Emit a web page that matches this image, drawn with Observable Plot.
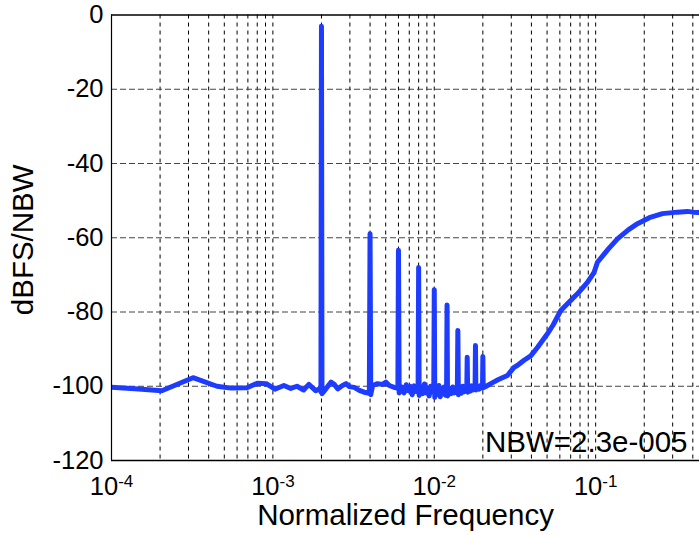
<!DOCTYPE html>
<html>
<head>
<meta charset="utf-8">
<script src="https://cdn.jsdelivr.net/npm/d3@7"></script>
<script src="https://cdn.jsdelivr.net/npm/@observablehq/plot@0.6"></script>
<style>
  html, body { margin: 0; padding: 0; overflow: hidden; background: #fff; }
</style>
</head>
<body>
<div id="chart"></div>
<script>
// Normalized frequency of each sample of the spectrum
const freq = [
  1.0e-4, 1.4e-4, 2.05e-4, 3.2e-4, 4.5e-4, 5.5e-4, 6.9e-4, 8.0e-4, 9.1e-4,
  1.03e-3, 1.17e-3, 1.29e-3, 1.41e-3, 1.55e-3, 1.67e-3, 1.84e-3, 1.96e-3,
  1.985e-3, 2.0e-3, 2.015e-3,
  2.13e-3, 2.29e-3, 2.40e-3, 2.52e-3, 2.70e-3, 2.84e-3, 2.98e-3, 3.19e-3, 3.43e-3, 3.68e-3,
  3.96e-3, 4.0e-3, 4.04e-3,
  4.15e-3, 4.45e-3, 4.79e-3, 5.02e-3, 5.26e-3, 5.65e-3,
  5.95e-3, 6.0e-3, 6.06e-3,
  6.3e-3, 6.5e-3, 6.7e-3, 6.9e-3, 7.1e-3, 7.3e-3, 7.5e-3, 7.7e-3,
  7.94e-3, 8.0e-3, 8.06e-3,
  8.3e-3, 8.5e-3, 8.7e-3, 8.9e-3, 9.1e-3, 9.3e-3, 9.5e-3, 9.7e-3,
  9.93e-3, 1.0e-2, 1.007e-2,
  1.03e-2, 1.05e-2, 1.07e-2, 1.09e-2, 1.11e-2, 1.13e-2, 1.15e-2, 1.17e-2,
  1.192e-2, 1.2e-2, 1.208e-2,
  1.24e-2, 1.27e-2, 1.30e-2, 1.33e-2, 1.36e-2,
  1.39e-2, 1.4e-2, 1.41e-2,
  1.44e-2, 1.47e-2, 1.50e-2, 1.53e-2, 1.56e-2,
  1.59e-2, 1.6e-2, 1.61e-2,
  1.64e-2, 1.67e-2, 1.70e-2, 1.74e-2,
  1.79e-2, 1.8e-2, 1.81e-2,
  1.85e-2, 1.89e-2, 1.93e-2,
  1.99e-2, 2.0e-2, 2.01e-2,
  2.1e-2, 2.24e-2, 2.5e-2, 2.84e-2, 3.12e-2, 3.27e-2, 3.6e-2, 3.96e-2, 4.37e-2,
  5.0e-2, 5.45e-2, 6.08e-2, 7.18e-2, 7.71e-2, 8.89e-2, 9.78e-2, 0.1026, 0.12,
  0.1365, 0.16, 0.1817, 0.215, 0.2594, 0.321, 0.37, 0.40, 0.45, 0.5
];
// Level in dBFS/NBW at each frequency
const level = [
  -100.3, -100.7, -101.2, -97.7, -100.0, -100.5, -100.4, -99.2, -99.3,
  -100.8, -99.8, -100.6, -100.0, -101.0, -99.5, -101.2, -100.6,
  -101.5, -3.0, -102.0,
  -100.7, -98.9, -99.5, -100.7, -99.8, -99.3, -100.1, -100.3, -101.1, -101.6,
  -101.9, -58.9, -102.3,
  -99.8, -99.3, -99.5, -98.9, -99.8, -100.3,
  -100.6, -63.4, -101.8,
  -100.2, -101.8, -99.6, -101.2, -100.0, -102.3, -99.9, -101.4,
  -100.6, -68.0, -102.5,
  -100.2, -102.0, -99.4, -101.8, -100.5, -102.6, -100.0, -101.5,
  -100.8, -74.0, -103.0,
  -100.4, -102.2, -99.8, -102.8, -100.6, -101.9, -100.2, -102.4,
  -100.9, -78.1, -102.6,
  -100.5, -102.0, -100.2, -101.8, -100.6,
  -101.4, -85.0, -102.3,
  -100.4, -101.9, -100.0, -101.5, -100.3,
  -101.2, -92.2, -101.6,
  -100.0, -101.3, -99.9, -101.0,
  -100.2, -89.0, -101.0,
  -100.0, -100.8, -99.8,
  -100.5, -92.0, -100.4,
  -100.0, -99.3, -98.2, -97.1, -94.9, -94.4, -93.0, -91.8, -89.5,
  -86.0, -83.5, -79.6, -76.4, -75.1, -72.0, -69.3, -66.6, -63.0,
  -60.3, -57.8, -56.2, -54.6, -53.5, -53.1, -52.9, -53.1, -53.2, -53.3
];

const yTicks = [-120, -100, -80, -60, -40, -20, 0];
const yGrid = [-100, -80, -60, -40, -20];
const xTicks = [1e-4, 1e-3, 1e-2, 1e-1];
const xTickExponents = ["-4", "-3", "-2", "-1"];
const decades = [1e-4, 1e-3, 1e-2, 1e-1];
const mantissas = [1, 2, 3, 4, 5, 6, 7, 8, 9];
const xDomain = [1e-4, 0.44]; // visible part of the frequency axis
const xLabel = "Normalized Frequency";
const yLabel = "dBFS/NBW";
const annotation = "NBW=2.3e-005";

const data = freq.map((f, i) => ({f, db: level[i]}));
const xGrid = decades.flatMap(d => mantissas.map(m => m * d)).filter(v => v > xDomain[0] && v < xDomain[1]);

const font = "'Liberation Sans', Arial, Helvetica, sans-serif";

const chart = Plot.plot({
  width: 699,
  height: 535,
  marginLeft: 111,
  marginRight: 0,
  marginTop: 14.5,
  marginBottom: 75,
  style: {fontFamily: font, background: "#fff", color: "#000"},
  x: {type: "log", domain: xDomain},
  y: {domain: [-120, 0]},
  marks: [
    Plot.ruleX(xGrid, {stroke: "#000", strokeWidth: 1, strokeDasharray: "4,4"}),
    Plot.ruleY(yGrid, {stroke: "#444", strokeWidth: 1, strokeDasharray: "6,3"}),
    Plot.text([annotation], {frameAnchor: "bottom-right", textAnchor: "end", lineAnchor: "middle",
      dx: -12, dy: -18, fontSize: 29.5, fill: "#000"}),
    Plot.line(data, {x: "f", y: "db", stroke: "#1e3cff", strokeWidth: 5,
      strokeLinejoin: "round", strokeLinecap: "round", clip: true}),
    Plot.ruleY([-120], {stroke: "#000", strokeWidth: 1.5}),
    Plot.ruleY([0], {stroke: "#000", strokeWidth: 1.5}),
    Plot.ruleX([xDomain[0]], {stroke: "#000", strokeWidth: 1.2}),
    Plot.axisY(yTicks, {tickSize: 0, tickPadding: 8, fontSize: 25.5, label: null,
      tickFormat: (d) => String(d)}),
    Plot.axisX(xTicks, {tickSize: 0, tickPadding: 16, fontSize: 25.5, label: null,
      tickFormat: (d) => "10|" + xTickExponents[xTicks.indexOf(d)]}),
    Plot.text([yLabel], {frameAnchor: "left", rotate: -90, textAnchor: "middle", lineAnchor: "middle",
      dx: -87.5, dy: 2, fontSize: 29.5, fill: "#000"}),
    Plot.text([xLabel], {frameAnchor: "bottom", textAnchor: "middle", lineAnchor: "middle",
      dy: 55, fontSize: 29.5, fill: "#000"})
  ]
});

// Turn "10|-4" labels into 10 with a superscript exponent
chart.querySelectorAll('g[aria-label="x-axis tick label"] text').forEach(t => {
  const [base, exp] = t.textContent.split("|");
  if (exp === undefined) return;
  t.textContent = "";
  const ns = "http://www.w3.org/2000/svg";
  const a = document.createElementNS(ns, "tspan");
  a.textContent = base;
  const b = document.createElementNS(ns, "tspan");
  b.textContent = exp;
  b.setAttribute("font-size", "17");
  b.setAttribute("dy", "-8");
  t.appendChild(a);
  t.appendChild(b);
});

document.getElementById("chart").appendChild(chart);
</script>
</body>
</html>
